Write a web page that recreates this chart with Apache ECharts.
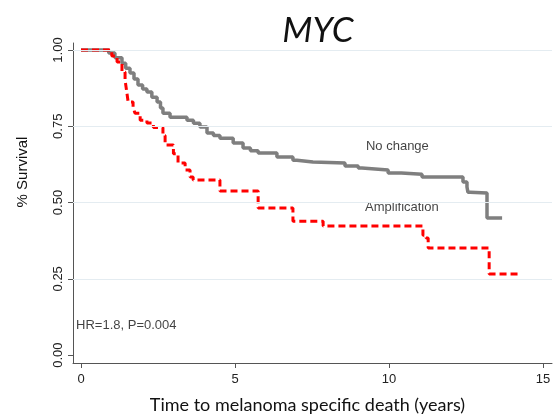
<!DOCTYPE html>
<html>
<head>
<meta charset="utf-8">
<script src="https://cdn.jsdelivr.net/npm/echarts@6/dist/echarts.min.js"></script>
<style>
  html, body { margin: 0; padding: 0; background: #ffffff; }
  #chart { width: 558px; height: 416px; }
</style>
</head>
<body>
<div id="chart"></div>
<script>
// Kaplan-Meier survival estimates: [years, survival]
const noChange = [
  [0, 1], [0.9, 0.99], [1.1, 0.975], [1.33, 0.957], [1.45, 0.94], [1.59, 0.925],
  [1.72, 0.905], [1.85, 0.885], [2.0, 0.872], [2.14, 0.862], [2.3, 0.845],
  [2.47, 0.83], [2.58, 0.81], [2.66, 0.793], [2.89, 0.78], [3.44, 0.77],
  [3.65, 0.76], [3.86, 0.748], [4.09, 0.728], [4.3, 0.72], [4.51, 0.711],
  [4.94, 0.695], [5.26, 0.679], [5.5, 0.67], [5.75, 0.662], [6.36, 0.649],
  [6.88, 0.639], [7.01, 0.633], [7.53, 0.63], [8.57, 0.62], [9.0, 0.613],
  [9.12, 0.607], [9.97, 0.597], [10.4, 0.593], [11.07, 0.584], [12.4, 0.567],
  [12.53, 0.551], [12.56, 0.534], [12.63, 0.531], [13.18, 0.449], [13.67, 0.449]
];
const amplification = [
  [0, 1], [0.88, 1], [1.0, 0.98], [1.17, 0.961], [1.33, 0.928], [1.43, 0.902],
  [1.49, 0.859], [1.53, 0.83], [1.69, 0.813], [1.75, 0.793], [1.92, 0.77],
  [2.14, 0.761], [2.35, 0.746], [2.66, 0.72], [2.73, 0.689], [3.0, 0.66],
  [3.15, 0.63], [3.38, 0.607], [3.54, 0.584], [3.64, 0.574], [4.51, 0.538],
  [5.75, 0.482], [6.88, 0.439], [7.86, 0.423], [11.1, 0.393], [11.2, 0.384],
  [11.27, 0.351], [13.25, 0.266], [14.25, 0.266]
];

const xTicks = [0, 5, 10, 15];
const yTicks = [0, 0.25, 0.5, 0.75, 1];
const gridValues = [0.25, 0.5, 0.75, 1];

// Text notes placed at [years, survival]
const notes = [
  { text: 'No change', at: [9.25, 0.685] },
  { text: 'Amplification', at: [9.22, 0.485] },
  { text: 'HR=1.8, P=0.004', at: [-0.16, 0.098] }
];

const axisColor = '#555555';
const tickFont = { fontFamily: 'Liberation Sans', fontSize: 13, color: '#222222' };

const chart = echarts.init(document.getElementById('chart'), null, { renderer: 'canvas' });

chart.setOption({
  animation: false,
  backgroundColor: '#ffffff',
  title: {
    text: 'MYC',
    left: 313,
    top: 8,
    textAlign: 'center',
    textStyle: { fontFamily: 'Lato', fontStyle: 'italic', fontWeight: 'normal', fontSize: 35, color: '#111111' }
  },
  grid: { left: 73, right: 6, top: 43, bottom: 53, outerBoundsMode: 'none', containLabel: false },
  xAxis: {
    type: 'value',
    min: -0.26,
    max: 15.29,
    name: 'Time to melanoma specific death (years)',
    nameLocation: 'middle',
    nameGap: 33,
    nameTextStyle: { fontFamily: 'Lato', fontSize: 18, color: '#111111', padding: [0, 10, 0, 0] },
    axisLine: { show: true, onZero: false, lineStyle: { color: axisColor, width: 1 } },
    axisTick: { show: true, customValues: xTicks, length: 5, lineStyle: { color: axisColor } },
    axisLabel: { show: true, customValues: xTicks, margin: 10, ...tickFont },
    splitLine: { show: false }
  },
  yAxis: {
    type: 'value',
    min: -0.026,
    max: 1.023,
    name: '% Survival',
    nameLocation: 'middle',
    nameGap: 43,
    nameTextStyle: { fontFamily: 'Liberation Sans', fontSize: 15, color: '#111111', padding: [0, 0, 0, 62] },
    axisLine: { show: true, onZero: false, lineStyle: { color: axisColor, width: 1 } },
    axisTick: { show: true, customValues: yTicks, length: 5, lineStyle: { color: axisColor } },
    axisLabel: {
      show: true, customValues: yTicks, rotate: 90, margin: 8, ...tickFont,
      formatter: v => v.toFixed(2)
    },
    splitLine: { show: false }
  },
  series: [
    {
      // horizontal reference lines behind the curves
      type: 'line',
      data: [],
      z: 1,
      silent: true,
      markLine: {
        silent: true,
        symbol: 'none',
        label: { show: false },
        lineStyle: { color: '#e4ecf1', width: 1.2, type: 'solid' },
        data: gridValues.map(v => ({ yAxis: v }))
      }
    },
    {
      name: 'No change',
      type: 'line',
      step: 'end',
      data: noChange,
      showSymbol: false,
      symbol: 'none',
      z: 3,
      lineStyle: { color: '#7f7f7f', width: 3.5 }
    },
    {
      name: 'Amplification',
      type: 'line',
      step: 'end',
      data: amplification,
      showSymbol: false,
      symbol: 'none',
      z: 4,
      lineStyle: { color: '#ff0000', width: 3, type: [7, 4] }
    },
    {
      type: 'scatter',
      symbolSize: 0,
      silent: true,
      data: notes.map(n => ({ value: n.at, name: n.text })),
      label: {
        show: true,
        position: 'right',
        distance: 0,
        formatter: p => p.name,
        fontFamily: 'Liberation Sans',
        fontSize: 13,
        color: '#111111'
      }
    }
  ]
});
</script>
</body>
</html>
